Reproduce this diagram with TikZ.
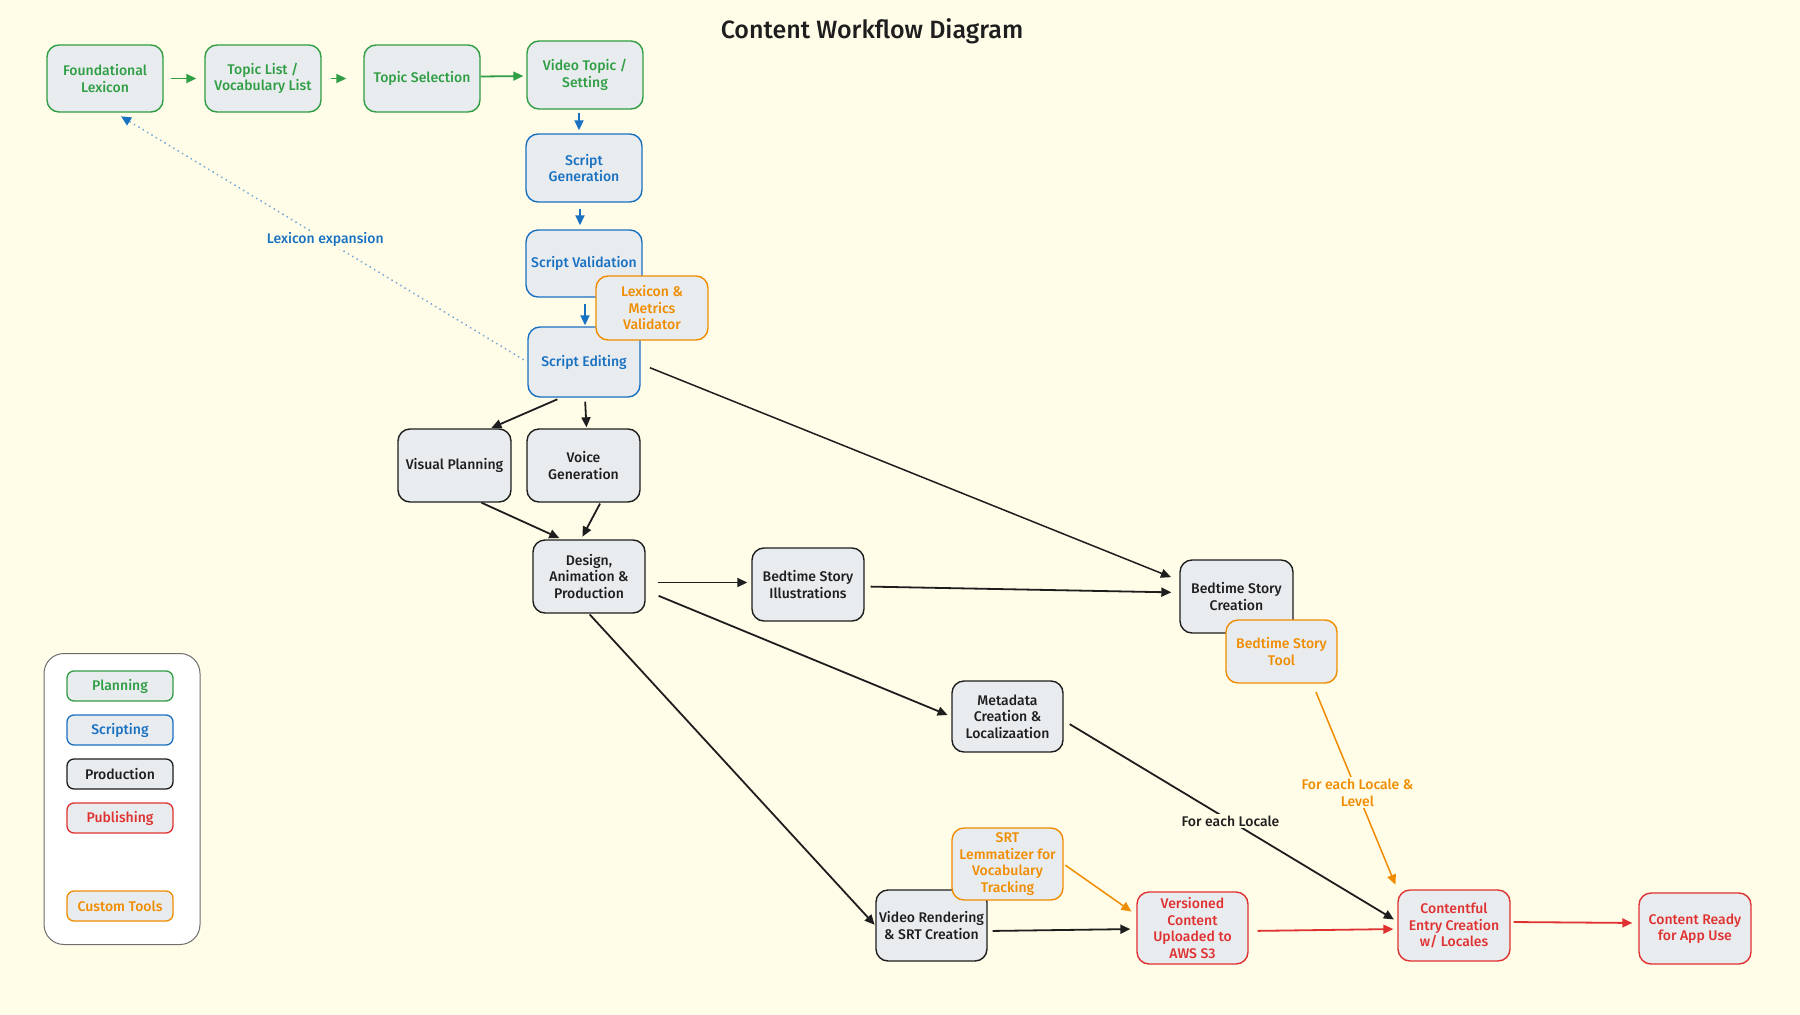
\documentclass[tikz,border=0pt]{standalone}
\usepackage{fontspec}
\setmainfont{Fira Sans}[UprightFont={* Medium}, BoldFont={* Bold}]
\usetikzlibrary{arrows.meta}
\definecolor{bg}{HTML}{FFFCE8}
\definecolor{nfill}{HTML}{E9ECEF}
\definecolor{cgreen}{HTML}{2F9E44}
\definecolor{cblue}{HTML}{1971C2}
\definecolor{cred}{HTML}{E03131}
\definecolor{corange}{HTML}{F08C00}
\definecolor{cblack}{HTML}{1E1E1E}
\definecolor{cdot}{HTML}{74A5D6}
\definecolor{cgray}{HTML}{6E6E6E}
\begin{document}
\begin{tikzpicture}[x=1pt,y=-1pt,
  box/.style={draw, rounded corners=12pt, fill=nfill, line width=1.4pt,
    minimum width=113pt, minimum height=69pt, align=center, inner sep=1pt,
    font=\fontsize{14}{16.5}\selectfont},
  plan/.style={box, draw=cgreen, text=cgreen},
  scr/.style={box, draw=cblue, text=cblue},
  prod/.style={box, draw=cblack, text=cblack},
  pub/.style={box, draw=cred, text=cred},
  tool/.style={box, draw=corange, text=corange},
  leg/.style={draw, rounded corners=7pt, fill=nfill, line width=1.3pt,
    minimum width=106pt, minimum height=30pt, inner sep=1pt,
    font=\fontsize{14}{16}\selectfont},
  arr/.style={line width=1.8pt, -{Triangle[length=10pt,width=9pt]}},
  elabel/.style={fill=bg, inner sep=2pt, font=\fontsize{14}{16.5}\selectfont, align=center}
]
\useasboundingbox (0,0) rectangle (1800,1015);
\fill[bg] (0,0) rectangle (1800,1015);

\node[font=\fontsize{25}{29}\selectfont, text=cblack] (title) at (872,31) {Content Workflow Diagram};

% Planning
\node[plan, minimum width=116pt, minimum height=67pt] (F1) at (105,78.5) {Foundational\\Lexicon};
\node[plan, minimum width=116pt, minimum height=67pt] (F2) at (263,78.5) {Topic List /\\Vocabulary List};
\node[plan, minimum width=116pt, minimum height=67pt] (F3) at (422,78.5) {Topic Selection};
\node[plan, minimum width=116pt, minimum height=68pt] (F4) at (585,75) {Video Topic /\\Setting};

% Scripting
\node[scr, minimum width=116pt, minimum height=68pt] (S1) at (584,168) {Script\\Generation};
\node[scr, minimum width=116pt, minimum height=67pt] (S2) at (584,263.5) {Script Validation};
\node[scr, minimum width=112pt, minimum height=70pt] (S3) at (584,362) {Script Editing};

% Production
\node[prod, minimum height=73pt] (P1) at (454.5,465.5) {Visual Planning};
\node[prod, minimum height=73pt] (P2) at (583.5,465.5) {Voice\\Generation};
\node[prod, minimum width=112pt, minimum height=73pt] (P3) at (589,576.5) {Design,\\Animation \&\\Production};
\node[prod, minimum width=112pt, minimum height=73pt] (P4) at (808,584.5) {Bedtime Story\\Illustrations};
\node[prod, minimum height=73pt] (P5) at (1236.5,596.5) {Bedtime Story\\Creation};
\node[prod, minimum width=111pt, minimum height=71pt] (P6) at (1007.5,716.5) {Metadata\\Creation \&\\Localizaation};
\node[prod, minimum width=111pt, minimum height=71pt] (P7) at (931.5,925.5) {Video Rendering\\\& SRT Creation};

% Publishing
\node[pub, minimum width=111pt, minimum height=72pt] (R1) at (1192.5,928) {Versioned\\Content\\Uploaded to\\AWS S3};
\node[pub, minimum width=112pt, minimum height=71pt] (R2) at (1454,925.5) {Contentful\\Entry Creation\\w/ Locales};
\node[pub, minimum width=112pt, minimum height=71pt] (R3) at (1695,928.5) {Content Ready\\for App Use};

% Tools
\node[tool, minimum width=112pt, minimum height=64pt] (T1) at (652,308) {Lexicon \&\\Metrics\\Validator};
\node[tool, minimum width=111pt, minimum height=63pt] (T2) at (1281.5,651.5) {Bedtime Story\\Tool};
\node[tool, minimum width=111pt, minimum height=72pt] (T3) at (1007.5,864) {SRT\\Lemmatizer for\\Vocabulary\\Tracking};

% Planning edges
\draw[arr, cgreen, shorten <=7pt, shorten >=8pt] (F1.east) -- (F2.west);
\draw[arr, cgreen, shorten <=9pt, shorten >=17pt] (F2.east) -- (F3.west);
\draw[arr, cgreen, shorten >=3pt] ([yshift=2pt]F3.east) -- ([yshift=-1pt]F4.west);

% Scripting edges
\draw[arr, cblue, shorten <=3pt, shorten >=3pt] ([xshift=-6pt]F4.south) -- ([xshift=-5pt]S1.north);
\draw[arr, cblue, shorten <=6pt, shorten >=4pt] ([xshift=-4pt]S1.south) -- ([xshift=-4pt]S2.north);
\draw[arr, cblue, shorten <=6pt, shorten >=1pt] ([xshift=1pt]S2.south) -- ([xshift=1pt]S3.north);
\draw[cdot, line width=2pt, dash pattern=on 0.1pt off 5pt, line cap=round,
  -{Triangle[length=10pt,width=9pt,fill=cblue,color=cblue]}, shorten <=5pt, shorten >=7pt]
  (S3.west) -- node[elabel, text=cblue, pos=0.49] (lx) {Lexicon expansion} ([xshift=10pt]F1.south);

% Production edges
\draw[arr, cblack, shorten <=4pt, shorten >=1pt] ([xshift=-23pt]S3.south) -- ([xshift=36pt]P1.north);
\draw[arr, cblack, shorten <=4pt, shorten >=1pt] ([xshift=1pt]S3.south) -- ([xshift=3pt]P2.north);
\draw[arr, cblack, line width=1.5pt, shorten <=10pt, shorten >=9pt] ([yshift=-2pt]S3.east) -- ([yshift=16pt]P5.west);
\draw[arr, cblack, shorten >=3pt] ([xshift=27pt]P1.south) -- ([xshift=-27pt]P3.north);
\draw[arr, cblack, shorten <=1pt, shorten >=3pt] ([xshift=17pt]P2.south) -- ([xshift=-8pt]P3.north);
\draw[arr, cblack, shorten <=12pt, shorten >=4pt] ([yshift=-6pt]P3.east) -- ([yshift=2pt]P4.west);
\draw[arr, cblack, shorten <=6pt, shorten >=8pt] ([yshift=-2pt]P4.east) -- ([yshift=4pt]P5.west);
\draw[arr, cblack, shorten <=14pt, shorten >=4pt] ([yshift=-14pt]P3.east) -- (P6.west);
\draw[arr, cblack, shorten <=1pt, shorten >=1pt] (P3.south) -- (P7.west);
\draw[arr, cblack, shorten <=7pt, shorten >=4pt] ([yshift=-4pt]P6.east) -- node[elabel, text=cblack] (l1) {For each Locale} ([yshift=4pt]R2.west);
\draw[arr, corange, line width=1.5pt, shorten <=9pt, shorten >=5pt] ([xshift=31pt]T2.south) -- node[elabel, text=corange, pos=0.53] (l2) {For each Locale \&\\Level} (R2.north west);
\draw[arr, corange, line width=1.5pt, shorten <=2pt, shorten >=6pt] (T3.east) -- ([yshift=13pt]R1.west);
\draw[arr, cblack, shorten <=5pt, shorten >=6pt] ([yshift=-5.5pt]P7.east) -- ([yshift=-1pt]R1.west);

% Publishing edges
\draw[arr, cred, shorten <=9pt, shorten >=4pt] ([yshift=-3pt]R1.east) -- ([yshift=-3.5pt]R2.west);
\draw[arr, cred, shorten <=3pt, shorten >=6pt] ([yshift=3.5pt]R2.east) -- ([yshift=5.5pt]R3.west);

% Legend
\node[draw=cgray, fill=white, rounded corners=20pt, line width=1pt,
  minimum width=156pt, minimum height=291pt] (legend) at (122,799) {};
\node[leg, draw=cgreen, text=cgreen] (lg1) at (120,686) {Planning};
\node[leg, draw=cblue, text=cblue] (lg2) at (120,730) {Scripting};
\node[leg, draw=cblack, text=cblack] (lg3) at (120,774) {Production};
\node[leg, draw=cred, text=cred] (lg4) at (120,818) {Publishing};
\node[leg, draw=corange, text=corange] (lg5) at (120,906) {Custom Tools};
\end{tikzpicture}
\end{document}
